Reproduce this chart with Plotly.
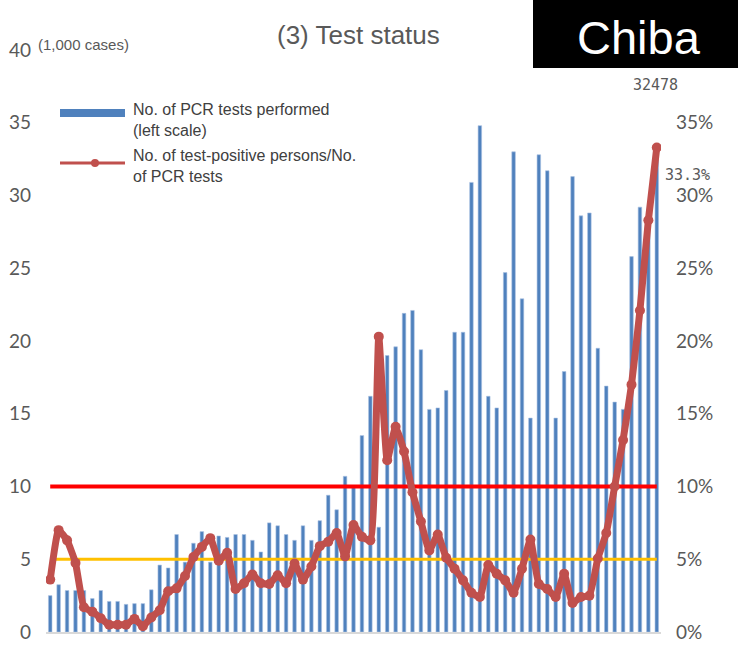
import plotly.graph_objects as go

# weekly PCR tests (thousands) and positivity rate (%)
weeks = list(range(73))
pcr_tests = [
    2.5, 3.25, 2.85, 2.85, 2.85, 2.3, 2.85, 2.1, 2.1, 1.9,
    1.95, 1.95, 2.9, 4.6, 4.4, 6.7, 4.8, 6.1, 6.9, 4.8,
    6.6, 6.5, 6.7, 6.7, 6.3, 5.5, 7.5, 7.3, 6.7, 6.3,
    7.3, 6.3, 7.65, 9.4, 8.4, 10.7, 10.0, 13.5, 16.2, 7.2,
    19.0, 19.6, 21.9, 22.1, 19.4, 15.3, 15.4, 16.6, 20.6, 20.6,
    30.9, 34.8, 16.2, 15.4, 24.7, 33.0, 22.9, 14.7, 32.8, 31.7,
    14.7, 17.9, 31.3, 28.6, 28.8, 19.5, 16.9, 15.8, 15.3, 25.8,
    29.2, 28.5, 32.478,
]
positive_rate = [
    3.6, 7.0, 6.3, 4.75, 1.7, 1.4, 0.95, 0.5, 0.5, 0.5,
    0.9, 0.4, 1.0, 1.5, 2.8, 3.0, 3.85, 5.15, 5.85, 6.45,
    4.9, 5.45, 2.95, 3.35, 3.95, 3.35, 3.3, 3.9, 3.35, 4.7,
    3.6, 4.5, 5.9, 6.2, 6.8, 5.2, 7.35, 6.55, 6.3, 20.3,
    11.8, 14.1, 12.4, 9.6, 7.6, 5.6, 6.7, 5.1, 4.35, 3.55,
    2.7, 2.4, 4.6, 4.0, 3.55, 2.7, 4.35, 6.35, 3.3, 2.95,
    2.4, 4.0, 2.0, 2.4, 2.5, 5.05, 6.8, 10.0, 13.2, 17.0,
    22.1, 28.3, 33.3,
]
thresholds = [0.10, 0.05]
threshold_colors = ["#FF0000", "#FFC000"]

BLUE = "#4F81BD"
RED = "#C0504D"
GREY = "#595959"

# plot area in pixels, used to place the decorations
PL, PR, PT, PB = 46, 661, 50, 632
W, H = 738, 648


def px(x):
    return (x - PL) / (PR - PL)


def py(y):
    return (PB - y) / (PB - PT)


fig = go.Figure()

fig.add_trace(go.Bar(
    x=weeks, y=pcr_tests, width=0.42,
    marker=dict(color=BLUE, line=dict(color="#A9C1E2", width=0.6)),
    name="No. of PCR tests performed (left scale)",
))

for t, c in zip(thresholds, threshold_colors):
    fig.add_trace(go.Scatter(
        x=[weeks[0], weeks[-1]], y=[t, t], yaxis="y2", mode="lines",
        line=dict(color=c, width=4 if c == "#FF0000" else 3),
        hoverinfo="skip",
    ))

fig.add_trace(go.Scatter(
    x=weeks, y=[v / 100 for v in positive_rate], yaxis="y2",
    mode="lines+markers",
    line=dict(color=RED, width=7, shape="spline", smoothing=0.4),
    marker=dict(color=RED, size=10),
    name="No. of test-positive persons/No. of PCR tests",
))

tick_font = dict(family="Lato, Carlito, sans-serif", size=19, color=GREY)

fig.update_layout(
    width=W, height=H,
    margin=dict(l=PL, r=W - PR, t=PT, b=H - PB, autoexpand=False),
    plot_bgcolor="white", paper_bgcolor="white",
    showlegend=False, bargap=0.5,
    xaxis=dict(range=[-0.5, 72.5], showticklabels=False, ticks="",
               showgrid=False, zeroline=False, automargin=False,
               showline=True, linecolor="#D9D9D9", linewidth=2),
    yaxis=dict(range=[0, 40], dtick=5, showgrid=False, zeroline=False,
               automargin=False, tickfont=tick_font, ticklabelstandoff=14),
    yaxis2=dict(range=[0, 0.4], dtick=0.05, tickformat=".0%", overlaying="y",
                side="right", showgrid=False, zeroline=False, automargin=False,
                tickfont=tick_font, ticklabelstandoff=14),
)

shapes = [
    # name box
    dict(type="rect", xref="paper", yref="paper", x0=px(533), x1=px(740),
         y0=py(68), y1=py(-2), fillcolor="black", line=dict(width=0)),
    # legend symbols
    dict(type="rect", xref="paper", yref="paper", x0=px(60), x1=px(125),
         y0=py(117), y1=py(109), fillcolor=BLUE, line=dict(width=0)),
    dict(type="line", xref="paper", yref="paper", x0=px(60), x1=px(125),
         y0=py(163), y1=py(163), line=dict(color=RED, width=3)),
    dict(type="circle", xref="paper", yref="paper", x0=px(91), x1=px(99),
         y0=py(167), y1=py(159), fillcolor=RED, line=dict(width=0)),
]
fig.update_layout(shapes=shapes)

arial = "Liberation Sans, Arial, sans-serif"
annotations = [
    dict(text="(3) Test status", x=px(358), y=py(35),
         font=dict(family=arial, size=26, color=GREY)),
    dict(text="(1,000 cases)", x=px(83), y=py(44),
         font=dict(family=arial, size=15, color=GREY)),
    dict(text="Chiba", x=px(639), y=py(37),
         font=dict(family=arial, size=47, color="white")),
    dict(text="No. of PCR tests performed<br>(left scale)", x=px(131), y=py(120),
         xanchor="left", align="left",
         font=dict(family=arial, size=16, color="#404040")),
    dict(text="No. of test-positive persons/No.<br>of PCR tests", x=px(131), y=py(166),
         xanchor="left", align="left",
         font=dict(family=arial, size=16, color="#404040")),
    dict(text=f"{round(pcr_tests[-1] * 1000)}", x=px(655), y=py(85),
         font=dict(family="DejaVu Sans Mono, monospace", size=15, color=GREY)),
    dict(text=f"{positive_rate[-1]:.1f}%", x=px(687), y=py(175),
         font=dict(family="DejaVu Sans Mono, monospace", size=15, color=GREY)),
]
for a in annotations:
    a.setdefault("xanchor", "center")
    fig.add_annotation(xref="paper", yref="paper", showarrow=False, yanchor="middle", **a)

# drop the page's default body margin so the figure sits at the window corner
fig.write_html("out.html", config={"displayModeBar": False},
               post_script="document.body.style.margin='0';")
